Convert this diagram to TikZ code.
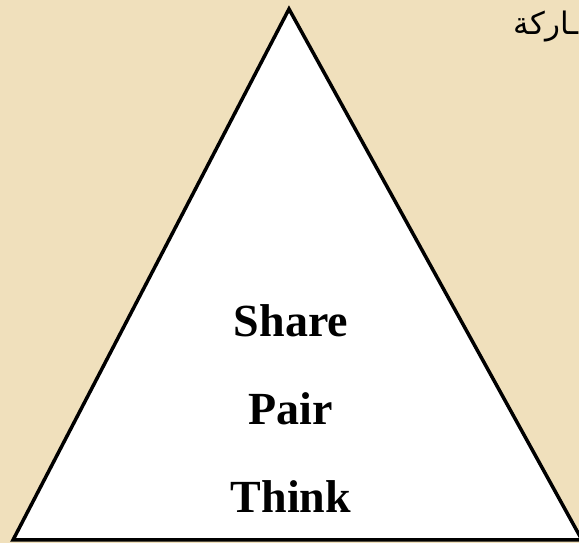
\documentclass[tikz,border=0pt]{standalone}
\usepackage{fontspec}
\setmainfont{Liberation Serif}
\newfontfamily\arabicfont[Script=Arabic]{DejaVu Sans}
\TeXXeTstate=1
\definecolor{parch}{RGB}{240,224,188}
\begin{document}
\begin{tikzpicture}[x=1pt,y=1pt,
  lbl/.style={font=\fontsize{46}{50}\selectfont\bfseries, anchor=base, inner sep=0pt},
  tri/.style={fill=white, draw=black, line width=3.5pt, line join=miter}]
\useasboundingbox (0,0) rectangle (579,543);
\clip (0,0) rectangle (579,543);
\fill[parch] (0,0) rectangle (579,543);
\coordinate (apex) at (289,534);
\coordinate (bl) at (13,3);
\coordinate (br) at (582,3);
\filldraw[tri] (apex) -- (bl) -- (br) -- cycle;
\node[lbl] (share) at (291,206) {Share};
\node[lbl] (pair) at (291,118) {Pair};
\node[lbl] (think) at (291,30) {Think};
\node[anchor=base east, inner sep=0pt, font=\fontsize{31}{36}\selectfont] (arab) at (579,508) {\arabicfont\beginR ـاركة\endR};
\end{tikzpicture}
\end{document}
